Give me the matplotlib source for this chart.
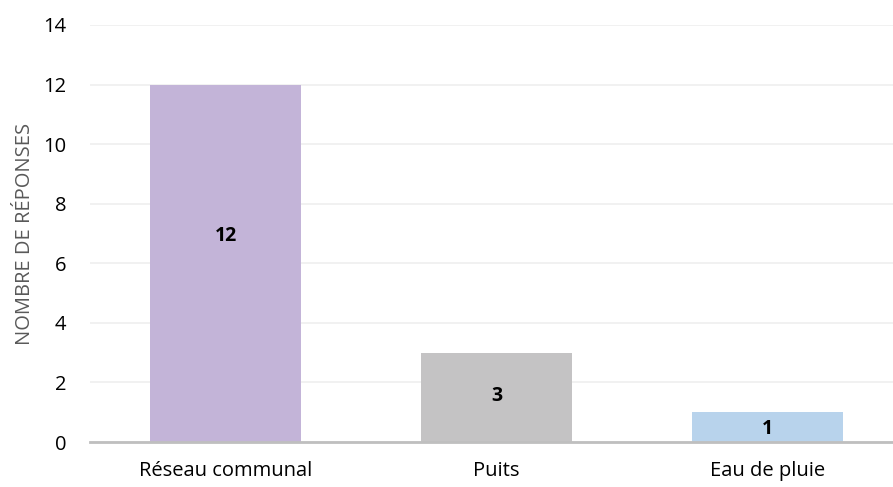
import matplotlib
matplotlib.use('Agg')
import matplotlib.pyplot as plt

categories = ['Réseau communal', 'Puits', 'Eau de pluie']
values = [12, 3, 1]
colors = ['#C3B4D8', '#C4C3C4', '#B8D3EC']

plt.rcParams['font.family'] = ['Open Sans', 'DejaVu Sans']

fig = plt.figure(figsize=(8.93, 4.87), dpi=100)
ax = fig.add_axes([0.1008, 0.0924, 0.9104, 0.8563])

x = range(len(categories))
bars = ax.bar(x, values, width=0.557, color=colors, zorder=2)

# data labels sit roughly mid-bar (the tall one a bit higher, as in the original)
label_frac = [0.575, 0.52, 0.42]
for b, v, f in zip(bars, values, label_frac):
    ax.text(b.get_x() + b.get_width() / 2, v * f, str(v), ha='center', va='center',
            fontsize=14, fontweight='bold', color='black', zorder=3)

ax.set_xlim(-0.5, 2.5)
ax.set_ylim(0, 14)
ax.set_yticks(range(0, 15, 2))
ax.set_xticks(list(x))
ax.set_xticklabels(categories)
ax.tick_params(axis='both', length=0, labelsize=14.5, colors='black')
ax.tick_params(axis='x', pad=14)
ax.tick_params(axis='y', pad=17)

ax.grid(axis='y', color='#EFEFEF', linewidth=1.2, zorder=0)
for s in ['top', 'right', 'left']:
    ax.spines[s].set_visible(False)
ax.spines['bottom'].set_color('#BFBFBF')
ax.spines['bottom'].set_linewidth(2)
ax.spines['bottom'].set_zorder(4)

ax.set_ylabel('NOMBRE DE RÉPONSES', fontsize=14.5, color='#595959', labelpad=6)

fig.savefig('out.png', dpi=100)
